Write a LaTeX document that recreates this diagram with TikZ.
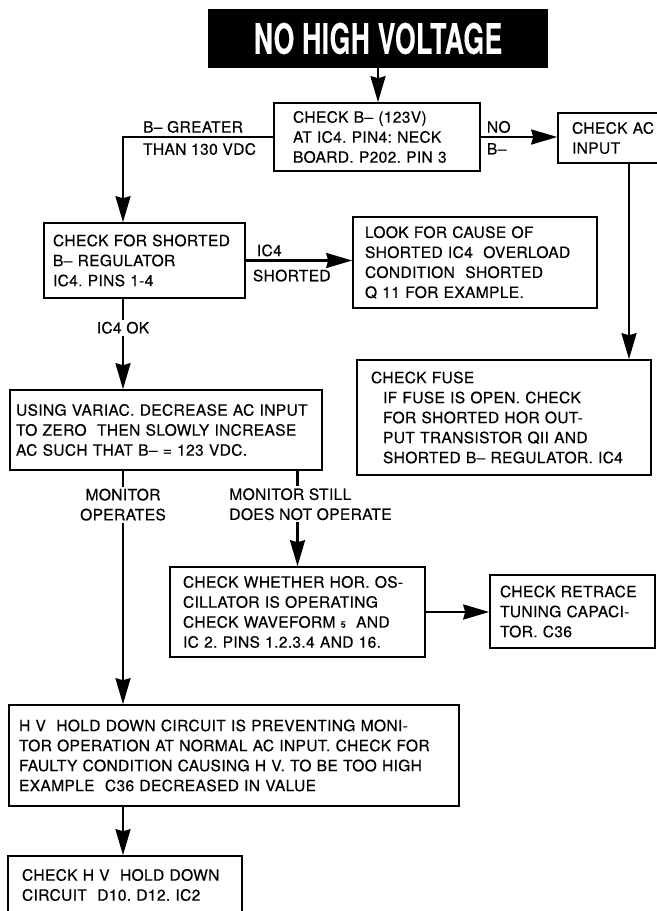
\documentclass[tikz,border=0pt]{standalone}
\usepackage{fontspec}
\setmainfont{TeX Gyre Heros}[LetterSpace=2, FakeBold=0.4]
\usetikzlibrary{arrows.meta,positioning}
\frenchspacing

\newcommand{\flowfont}{\fontsize{15.6bp}{20bp}\selectfont}
\newcommand{\headfont}{\fontsize{42bp}{42bp}\selectfont\bfseries}

\tikzset{
  stepbox/.style={draw, line width=1.6bp, align=left, inner ysep=0bp, font=\flowfont},
  flow/.style={-{Stealth[length=26bp,width=15bp,inset=2bp]}, line width=2.2bp},
  tag/.style={font=\flowfont, inner sep=2bp, align=left},
}

\begin{document}
\begin{tikzpicture}[x=1bp, y=-1bp]
  \useasboundingbox (0,0) rectangle (657,911);
  \clip (0,0) rectangle (657,911);
  \coordinate (spine) at (123,0);

  % Heading
  \node[fill=black, text=white, font=\headfont, minimum width=340bp,
        minimum height=59bp, inner sep=0bp] (nohv) at (378,38.5)
    {\scalebox{0.63}[1]{NO HIGH VOLTAGE}};
  % First check
  \node[stepbox, text width=168bp, inner xsep=19bp, minimum height=68bp]
    (check) at (377,137) {CHECK B-- (123V)\\
    AT IC4. PIN4: NECK\\
    BOARD. P202. PIN 3};
  % AC input (runs off the page)
  \node[stepbox, text width=114bp, inner xsep=14bp, minimum height=50bp]
    (acinput) at (629,138) {CHECK AC\\
    INPUT};
  % Regulator
  \node[stepbox, text width=183bp, inner xsep=9bp, minimum height=75bp]
    (regcheck) at (144.5,260.5) {CHECK FOR SHORTED\\
    B-- REGULATOR\\
    IC4. PINS 1-4};
  \node[stepbox, text width=220bp, inner xsep=12bp, minimum height=91bp]
    (cause) at (475,262.5) {LOOK FOR CAUSE OF\\
    SHORTED IC4\ \ OVERLOAD\\
    CONDITION\ \ SHORTED\\
    Q 11 FOR EXAMPLE.};
  % Fuse
  \node[stepbox, text width=266bp, inner xsep=14bp, minimum height=115bp]
    (fuse) at (504,417.5) {CHECK FUSE\\
    \hspace*{12bp}IF FUSE IS OPEN. CHECK\\
    \hspace*{12bp}FOR SHORTED HOR OUT-\\
    \hspace*{12bp}PUT TRANSISTOR QII AND\\
    \hspace*{12bp}SHORTED B-- REGULATOR. IC4};
  % Variac
  \node[stepbox, text width=300bp, inner xsep=6bp, minimum height=80bp]
    (variac) at (166,430) {USING VARIAC. DECREASE AC INPUT\\
    TO ZERO\ \ THEN SLOWLY INCREASE\\
    AC SUCH THAT B-- = 123 VDC.};
  % Oscillator
  \node[stepbox, text width=229bp, inner xsep=13bp, minimum height=90bp]
    (osc) at (297.5,612) {CHECK WHETHER HOR. OS-\\
    CILLATOR IS OPERATING\\
    CHECK WAVEFORM {\fontsize{9bp}{9bp}\selectfont 5}\ \ AND\\
    IC 2. PINS 1.2.3.4 AND 16.};
  \node[stepbox, text width=145bp, inner xsep=10bp, minimum height=73bp]
    (retrace) at (572.5,611.5) {CHECK RETRACE\\
    TUNING CAPACI-\\
    TOR. C36};
  % Hold down
  \node[stepbox, text width=430bp, inner xsep=10bp, minimum height=101bp]
    (holddown) at (234,755.5) {H V\ \ HOLD DOWN CIRCUIT IS PREVENTING MONI-\\
    TOR OPERATION AT NORMAL AC INPUT. CHECK FOR\\
    FAULTY CONDITION CAUSING H V. TO BE TOO HIGH\\
    EXAMPLE\ \ C36 DECREASED IN VALUE};
  \node[stepbox, text width=206bp, inner xsep=14bp, minimum height=58bp]
    (hvcheck) at (125,885) {CHECK H V\ \ HOLD DOWN\\
    CIRCUIT\ \ D10. D12. IC2};

  \draw[flow] (nohv.south) -- (nohv.south |- check.north);
  \draw[flow] (check.west) -- (spine |- check.west)
    node[tag, above right=1bp and 17bp] {B-- GREATER}
    node[tag, below right=3bp and 17bp] {THAN 130 VDC}
    -- (spine |- regcheck.north);
  \draw[flow] (check.east)
    node[tag, above right=1bp and 3bp] {NO}
    node[tag, below right=3bp and 3bp] {B--}
    -- (check.east -| acinput.west);
  \draw[flow] (acinput.south) -- (acinput.south |- fuse.north);
  \draw[flow] (regcheck.east)
    node[tag, above right=1bp and 8bp] {IC4}
    node[tag, below right=6bp and 4bp] {SHORTED}
    -- (regcheck.east -| cause.west);
  \draw[flow] (spine |- regcheck.south) --
    node[tag, fill=white, pos=0.32] {IC4 OK} (spine |- variac.north);
  \draw[flow] (spine |- variac.south) --
    node[tag, fill=white, align=center, pos=0.145] {MONITOR\\OPERATES}
    (spine |- holddown.north);
  \draw[flow] (osc.north |- variac.south) --
    node[tag, fill=white, pos=0.35, xshift=13bp] {MONITOR STILL\\DOES NOT OPERATE}
    (osc.north);
  \draw[flow] (osc.east) -- (osc.east -| retrace.west);
  \draw[flow] (spine |- holddown.south) -- (spine |- hvcheck.north);
\end{tikzpicture}
\end{document}
